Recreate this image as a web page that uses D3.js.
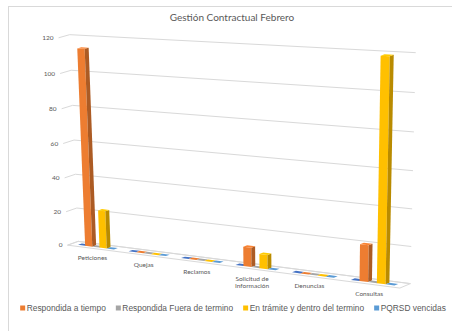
<!DOCTYPE html>
<html>
<head>
<meta charset="utf-8">
<script src="https://cdn.jsdelivr.net/npm/d3@7"></script>
<style>
  html, body { margin: 0; padding: 0; background: #fff; }
  svg { display: block; }
</style>
</head>
<body>
<svg id="chart" width="452" height="331"></svg>
<script>
// ---- data ----
const categories = ["Peticiones", "Quejas", "Reclamos", "Solicitud de\nInformación", "Denuncias", "Consultas"];
const seriesNames = ["Serie 1", "Respondida a tiempo", "Respondida Fuera de termino", "En trámite y dentro del termino", "PQRSD vencidas"];
const seriesColors = ["#4472C4", "#ED7D31", "#A5A5A5", "#FFC000", "#5B9BD5"];
const inLegend = [false, true, true, true, true];
const serie1 = [0, 0, 0, 0, 0, 0];
const respondidaATiempo = [114, 0, 0, 11, 0, 20];
const respondidaFuera = [0, 0, 0, 0, 0, 0];
const enTramite = [22, 0, 0, 8, 0, 119];
const vencidas = [0, 0, 0, 0, 0, 0];
const yTicks = [0, 20, 40, 60, 80, 100, 120];
const yMax = 120;
const title = "Gestión Contractual Febrero";

const seriesValues = [serie1, respondidaATiempo, respondidaFuera, enTramite, vencidas];

// ---- 3D perspective camera ----
// World space: x = category position (0..6), y = value fraction (0..1), z = depth (0 front, 1 back).
// The camera is recovered from where the corners of the plot box land on screen.
const boxAnchors = [
  [[0, 1, 1], [70, 35]],
  [[6, 1, 1], [416, 53]],
  [[0, 0, 1], [78, 242]],
  [[6, 0, 1], [410, 284]],
  [[0, 0, 0], [68, 245]],
  [[6, 0, 0], [400, 288]],
  [[0, 1, 0], [58, 38]],
  [[0, 0.5, 1], [74, 139]],
  [[6, 0.5, 1], [413, 170]]
];

function solveCamera(anchors) {
  const rows = [], rhs = [];
  anchors.forEach(([[X, Y, Z], [u, v]]) => {
    rows.push([X, Y, Z, 1, 0, 0, 0, 0, -u * X, -u * Y, -u * Z]); rhs.push(u);
    rows.push([0, 0, 0, 0, X, Y, Z, 1, -v * X, -v * Y, -v * Z]); rhs.push(v);
  });
  const n = 11;
  const M = d3.range(n).map(i => {
    const r = new Array(n + 1).fill(0);
    rows.forEach((row, k) => {
      for (let j = 0; j < n; j++) r[j] += row[i] * row[j];
      r[n] += row[i] * rhs[k];
    });
    return r;
  });
  for (let c = 0; c < n; c++) {
    let p = c;
    for (let r = c + 1; r < n; r++) if (Math.abs(M[r][c]) > Math.abs(M[p][c])) p = r;
    [M[c], M[p]] = [M[p], M[c]];
    for (let r = 0; r < n; r++) {
      if (r === c) continue;
      const f = M[r][c] / M[c][c];
      for (let j = c; j <= n; j++) M[r][j] -= f * M[c][j];
    }
  }
  return M.map((row, i) => row[n] / row[i]);
}
const P = solveCamera(boxAnchors);
function project(X, Y, Z) {
  const w = P[8] * X + P[9] * Y + P[10] * Z + 1;
  return [(P[0] * X + P[1] * Y + P[2] * Z + P[3]) / w,
          (P[4] * X + P[5] * Y + P[6] * Z + P[7]) / w];
}

// ---- scales ----
const xCat = d3.scaleBand().domain(d3.range(categories.length)).range([0, categories.length]);
const gapWidth = 2;
const xSeries = d3.scaleBand().domain(d3.range(seriesNames.length)).range([0, 1])
  .paddingInner(0).paddingOuter(gapWidth / 2);
const yScale = d3.scaleLinear().domain([0, yMax]).range([0, 1]);
const zFront = 0.32, zBack = 0.68;

const svg = d3.select("#chart");
const font = "Lato, 'Open Sans', sans-serif";
const textColor = "#595959";
const gridColor = "#d9d9d9";

// chart border
svg.append("rect").attr("x", 8.5).attr("y", 6.5).attr("width", 460).attr("height", 340)
  .attr("fill", "#fff").attr("stroke", gridColor).attr("stroke-width", 1);

// title
svg.append("text").attr("x", 232).attr("y", 21).attr("text-anchor", "middle")
  .attr("font-family", font).attr("font-size", 10).attr("fill", textColor).text(title);

const line = d3.line();
const g = svg.append("g");

// back wall and side wall gridlines
yTicks.forEach(t => {
  const y = yScale(t);
  g.append("path").attr("d", line([project(0, y, 1), project(categories.length, y, 1)]))
    .attr("stroke", gridColor).attr("fill", "none").attr("stroke-width", 1);
  g.append("path").attr("d", line([project(0, y, 0), project(0, y, 1)]))
    .attr("stroke", gridColor).attr("fill", "none").attr("stroke-width", 1);
});

// floor outline
const nC = categories.length;
g.append("path")
  .attr("d", line([project(0, 0, 0), project(nC, 0, 0), project(nC, 0, 1), project(0, 0, 1)]) + "Z")
  .attr("stroke", gridColor).attr("fill", "none").attr("stroke-width", 1);

// value axis labels
yTicks.forEach(t => {
  const [px, py] = project(0, yScale(t), 0);
  svg.append("text").attr("x", px - 5).attr("y", py).attr("dy", "0.35em")
    .attr("text-anchor", "end").attr("font-family", font).attr("font-size", 6.5)
    .attr("fill", textColor).text(t);
});

// category labels
categories.forEach((c, i) => {
  const [px, py] = project(xCat(i) + xCat.bandwidth() / 2, 0, 0);
  const t = svg.append("text").attr("x", px).attr("y", py + 12).attr("text-anchor", "middle")
    .attr("font-family", font).attr("font-size", 6.5).attr("fill", textColor);
  c.split("\n").forEach((part, k) => {
    t.append("tspan").attr("x", px).attr("dy", k === 0 ? 0 : "1.15em").text(part);
  });
});

// bars, drawn left to right (the right end sits nearer the viewer)
const bars = [];
categories.forEach((c, i) => {
  seriesValues.forEach((vals, s) => {
    bars.push({ cat: i, s, value: vals[i] });
  });
});
const face = pts => line(pts.map(p => project(...p))) + "Z";
bars.forEach(b => {
  const x0 = xCat(b.cat) + xSeries(b.s);
  const x1 = x0 + xSeries.bandwidth();
  const h = yScale(b.value);
  const base = d3.color(seriesColors[b.s]);
  const bg = g.append("g");
  if (h > 0) {
    bg.append("path").attr("d", face([[x0, 0, zFront], [x1, 0, zFront], [x1, h, zFront], [x0, h, zFront]]))
      .attr("fill", base.formatHex());
    bg.append("path").attr("d", face([[x1, 0, zFront], [x1, 0, zBack], [x1, h, zBack], [x1, h, zFront]]))
      .attr("fill", base.darker(0.9).formatHex());
  }
  bg.append("path").attr("d", face([[x0, h, zFront], [x1, h, zFront], [x1, h, zBack], [x0, h, zBack]]))
    .attr("fill", h > 0 ? base.brighter(0.15).formatHex() : base.formatHex());
});

// legend
const legend = svg.append("g").attr("font-family", "'Liberation Sans', Arial, sans-serif")
  .attr("font-size", 8.4).attr("fill", textColor);
let lx = 0;
seriesNames.forEach((name, s) => {
  if (!inLegend[s]) return;
  const it = legend.append("g").attr("transform", `translate(${lx},0)`);
  it.append("rect").attr("x", 0).attr("y", -5.5).attr("width", 5).attr("height", 5).attr("fill", seriesColors[s]);
  const tx = it.append("text").attr("x", 6.5).attr("y", 0).text(name);
  lx += 6.5 + tx.node().getComputedTextLength() + 10;
});
const legendWidth = lx - 10;
legend.attr("transform", `translate(${233 - legendWidth / 2},311)`);
</script>
</body>
</html>
